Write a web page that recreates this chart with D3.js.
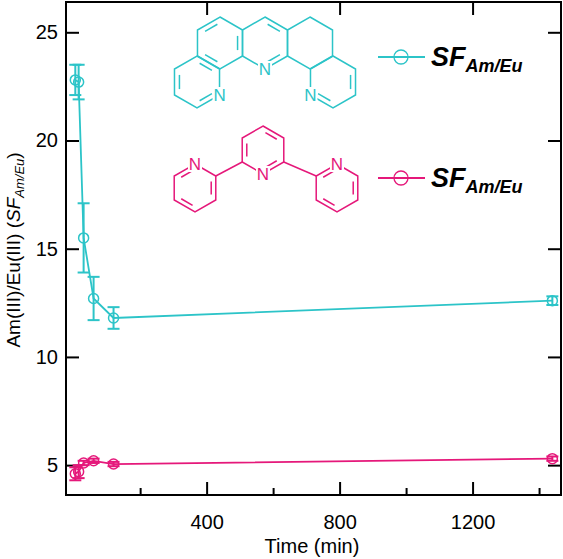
<!DOCTYPE html><html><head><meta charset="utf-8">
<script src="https://cdn.jsdelivr.net/npm/d3@7"></script>
<style>body{margin:0;background:#fff}</style></head><body>
<script>
const times = [5, 15, 30, 60, 120, 1440];
const sfCyan = [22.8, 22.7, 15.5, 12.7, 11.8, 12.6];
const errCyan = [0.7, 0.8, 1.6, 1.0, 0.5, 0.2];
const sfMag = [4.6, 4.7, 5.1, 5.2, 5.05, 5.3];
const errMag = [0.3, 0.3, 0.1, 0.1, 0.1, 0.1];
const xTicks = [400, 800, 1200];
const xMinor = [200, 600, 1000, 1400];
const yTicks = [5, 10, 15, 20, 25];
const legendLabels = ["SF", "SF"];
const cyan = "#2cc4c8", mag = "#e5187a";

const W = 563, H = 559, L = 66, R = 561, T = 2, B = 495;
const svg = d3.select("body").append("svg").attr("width", W).attr("height", H)
  .style("font-family", "'Liberation Sans', Arial, sans-serif");
const x = d3.scaleLinear().domain([-23, 1466]).range([L, R]);
const y = d3.scaleLinear().domain([3.62, 26.4]).range([B, T]);

svg.append("rect").attr("x", L).attr("y", T).attr("width", R - L).attr("height", B - T)
  .attr("fill", "none").attr("stroke", "#000").attr("stroke-width", 2);
svg.append("g").attr("transform", `translate(0,${B})`)
  .call(d3.axisBottom(x).tickValues(xTicks).tickSize(-13).tickPadding(20).tickFormat(d3.format("d")))
  .call(g => { g.select(".domain").remove(); g.selectAll("line").attr("stroke-width", 2); g.selectAll("text").attr("font-size", 20).attr("fill", "#000"); });
svg.append("g").attr("transform", `translate(0,${B})`)
  .call(d3.axisBottom(x).tickValues(xMinor).tickSize(-7).tickFormat(""))
  .call(g => { g.select(".domain").remove(); g.selectAll("line").attr("stroke-width", 2); });
svg.append("g").attr("transform", `translate(0,${T})`)
  .call(d3.axisTop(x).tickValues(xTicks).tickSize(-13).tickFormat(""))
  .call(g => { g.select(".domain").remove(); g.selectAll("line").attr("stroke-width", 2); });
svg.append("g").attr("transform", `translate(${L},0)`)
  .call(d3.axisLeft(y).tickValues(yTicks).tickSize(-13).tickPadding(8))
  .call(g => { g.select(".domain").remove(); g.selectAll("line").attr("stroke-width", 2); g.selectAll("text").attr("font-size", 20).attr("fill", "#000"); });
svg.append("g").attr("transform", `translate(${R},0)`)
  .call(d3.axisRight(y).tickValues(yTicks).tickSize(-13).tickFormat(""))
  .call(g => { g.select(".domain").remove(); g.selectAll("line").attr("stroke-width", 2); });

svg.append("text").attr("x", 312).attr("y", 553).attr("text-anchor", "middle")
  .attr("font-size", 20).text("Time (min)");
const yl = svg.append("text").attr("transform", "translate(20,250) rotate(-90)").attr("text-anchor", "middle")
  .attr("font-size", 19);
yl.append("tspan").text("Am(III)/Eu(III) (");
yl.append("tspan").attr("font-style", "italic").text("SF");
yl.append("tspan").attr("font-style", "italic").attr("font-size", 13).attr("dy", 4).text("Am/Eu");
yl.append("tspan").attr("dy", -4).text(")");

function series(vals, errs, col) {
  const g = svg.append("g");
  const pts = times.map((t, i) => ({ t, v: vals[i], e: errs[i] }));
  g.append("path").datum(pts).attr("fill", "none").attr("stroke", col).attr("stroke-width", 1.8)
    .attr("d", d3.line().x(d => x(d.t)).y(d => y(d.v)));
  pts.forEach(d => {
    const cx = x(d.t);
    g.append("line").attr("x1", cx).attr("x2", cx).attr("y1", y(d.v - d.e)).attr("y2", y(d.v + d.e)).attr("stroke", col).attr("stroke-width", 2);
    [d.v - d.e, d.v + d.e].forEach(v => g.append("line").attr("x1", cx - 6).attr("x2", cx + 6).attr("y1", y(v)).attr("y2", y(v)).attr("stroke", col).attr("stroke-width", 2));
    g.append("circle").attr("cx", cx).attr("cy", y(d.v)).attr("r", 5).attr("fill", "none").attr("stroke", col).attr("stroke-width", 1.5);
  });
}
series(sfCyan, errCyan, cyan);
series(sfMag, errMag, mag);

// legend
[[57, cyan], [178, mag]].forEach(([ly, col], i) => {
  svg.append("line").attr("x1", 378).attr("x2", 425).attr("y1", ly).attr("y2", ly).attr("stroke", col).attr("stroke-width", 1.8);
  svg.append("circle").attr("cx", 401).attr("cy", ly).attr("r", 7).attr("fill", "none").attr("stroke", col).attr("stroke-width", 1.3);
  const t = svg.append("text").attr("x", 431).attr("y", ly + 9).attr("font-size", 27).attr("font-weight", "bold").attr("font-style", "italic");
  t.append("tspan").text(legendLabels[i]);
  t.append("tspan").attr("font-size", 18).attr("dy", 6).text("Am/Eu");
});

// molecules
function hexPts(cx, cy, s) { return d3.range(6).map(k => { const a = (-90 + 60 * k) * Math.PI / 180; return [cx + s * Math.cos(a), cy + s * Math.sin(a)]; }); }
function ring(g, cx, cy, s, col, inner) {
  const p = hexPts(cx, cy, s);
  g.append("path").attr("d", "M" + p.join("L") + "Z").attr("fill", "none").attr("stroke", col).attr("stroke-width", 1.5);
  inner.forEach(k => {
    const a = p[k], b = p[(k + 1) % 6], f = 0.78;
    const ia = [cx + (a[0] - cx) * f, cy + (a[1] - cy) * f], ib = [cx + (b[0] - cx) * f, cy + (b[1] - cy) * f];
    const m = 0.15;
    g.append("line").attr("x1", ia[0] + (ib[0] - ia[0]) * m).attr("y1", ia[1] + (ib[1] - ia[1]) * m)
      .attr("x2", ib[0] - (ib[0] - ia[0]) * m).attr("y2", ib[1] - (ib[1] - ia[1]) * m).attr("stroke", col).attr("stroke-width", 1.5);
  });
}
function nLabel(g, px, py, col) {
  g.append("rect").attr("x", px - 7).attr("y", py - 8).attr("width", 14).attr("height", 16).attr("fill", "#fff");
  g.append("text").attr("x", px).attr("y", py + 6).attr("text-anchor", "middle").attr("font-size", 17).attr("fill", col).text("N");
}
const mc = svg.append("g"), s1 = 26, h1 = s1 * Math.sqrt(3) / 2;
ring(mc, 220, 43, s1, cyan, [5, 1, 3]);
ring(mc, 265, 43, s1, cyan, [0, 2]);
ring(mc, 310, 43, s1, cyan, []);
ring(mc, 197, 82, s1, cyan, [4, 0, 2]);
ring(mc, 333, 82, s1, cyan, [1, 3]);
nLabel(mc, 265, 69, cyan);
nLabel(mc, 197 + h1, 95, cyan);
nLabel(mc, 333 - h1, 95, cyan);

const mm = svg.append("g"), s2 = 24, h2 = s2 * Math.sqrt(3) / 2;
ring(mm, 263, 150, s2, mag, [0, 2, 4]);
ring(mm, 195, 188, s2, mag, [1, 3, 5]);
ring(mm, 337, 188, s2, mag, [1, 3, 5]);
mm.append("line").attr("x1", 263 - h2).attr("y1", 162).attr("x2", 195 + h2).attr("y2", 176).attr("stroke", mag).attr("stroke-width", 1.5);
mm.append("line").attr("x1", 263 + h2).attr("y1", 162).attr("x2", 337 - h2).attr("y2", 176).attr("stroke", mag).attr("stroke-width", 1.5);
nLabel(mm, 263, 174, mag);
nLabel(mm, 195, 164, mag);
nLabel(mm, 337, 164, mag);
</script></body></html>
